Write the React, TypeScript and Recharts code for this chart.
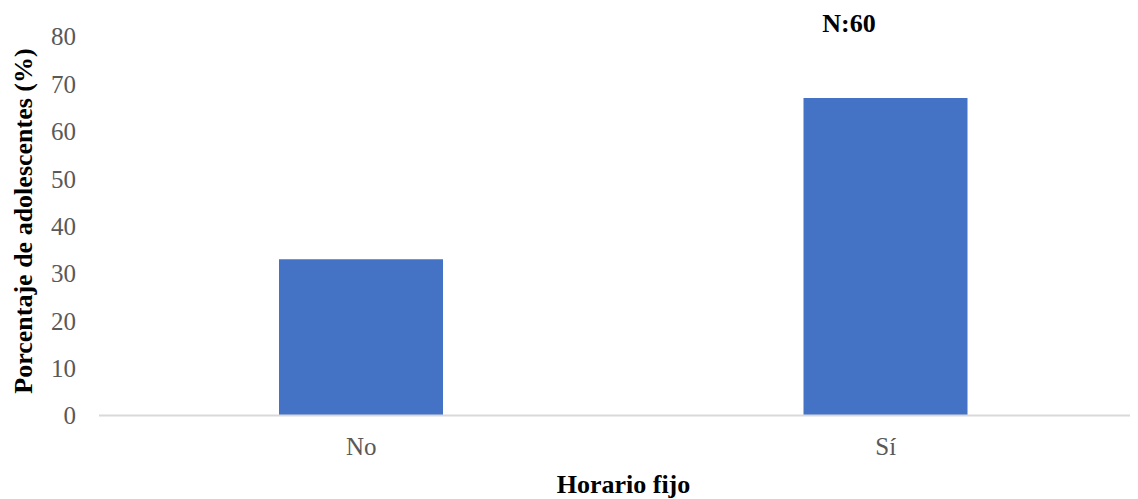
import { BarChart, Bar, XAxis, YAxis } from "recharts";

const categories = ["No", "Sí"];
const percentages = [33, 67];
const yTicks = [0, 10, 20, 30, 40, 50, 60, 70, 80];

const data = categories.map((name, i) => ({ name, value: percentages[i] }));

const FONT = '"Liberation Serif", "Times New Roman", serif';

const YTitle = ({ viewBox }: any) => {
  const { y, height } = viewBox;
  const cx = 23;
  const cy = y + height / 2 - 5;
  return (
    <text
      x={cx}
      y={cy}
      transform={`rotate(-90, ${cx}, ${cy})`}
      textAnchor="middle"
      dominantBaseline="central"
      fontFamily={FONT}
      fontWeight="bold"
      fontSize={26}
      fill="#000"
    >
      Porcentaje de adolescentes (%)
    </text>
  );
};

const overlayText = {
  position: "absolute" as const,
  transform: "translateX(-50%)",
  fontFamily: FONT,
  fontWeight: "bold" as const,
  fontSize: 26,
  lineHeight: "32px",
  color: "#000",
  whiteSpace: "nowrap" as const,
};

export default function App() {
  return (
    <div
      style={{
        marginLeft: -8,
        marginTop: -8,
        width: 1138,
        height: 499,
        overflow: "hidden",
        position: "relative",
        background: "#fff",
      }}
    >
      <BarChart
        width={1160}
        height={499}
        data={data}
        margin={{ top: 36.5, right: 12, left: 0, bottom: 0 }}
      >
        <XAxis
          dataKey="name"
          height={83.5}
          axisLine={{ stroke: "#d9d9d9", strokeWidth: 2 }}
          tickLine={false}
          tickMargin={16}
          tick={{ fill: "#595959", fontSize: 25, fontFamily: FONT }}
        />
        <YAxis
          width={99}
          domain={[0, 80]}
          ticks={yTicks}
          interval={0}
          axisLine={false}
          tickLine={false}
          tickMargin={17}
          tick={{ fill: "#595959", fontSize: 25, fontFamily: FONT }}
          label={{ content: YTitle }}
        />
        <Bar dataKey="value" fill="#4472C4" barSize={164} isAnimationActive={false} />
      </BarChart>
      <div style={{ ...overlayText, left: 849, top: 8 }}>N:60</div>
      <div style={{ ...overlayText, left: 623.5, top: 469 }}>Horario fijo</div>
    </div>
  );
}
